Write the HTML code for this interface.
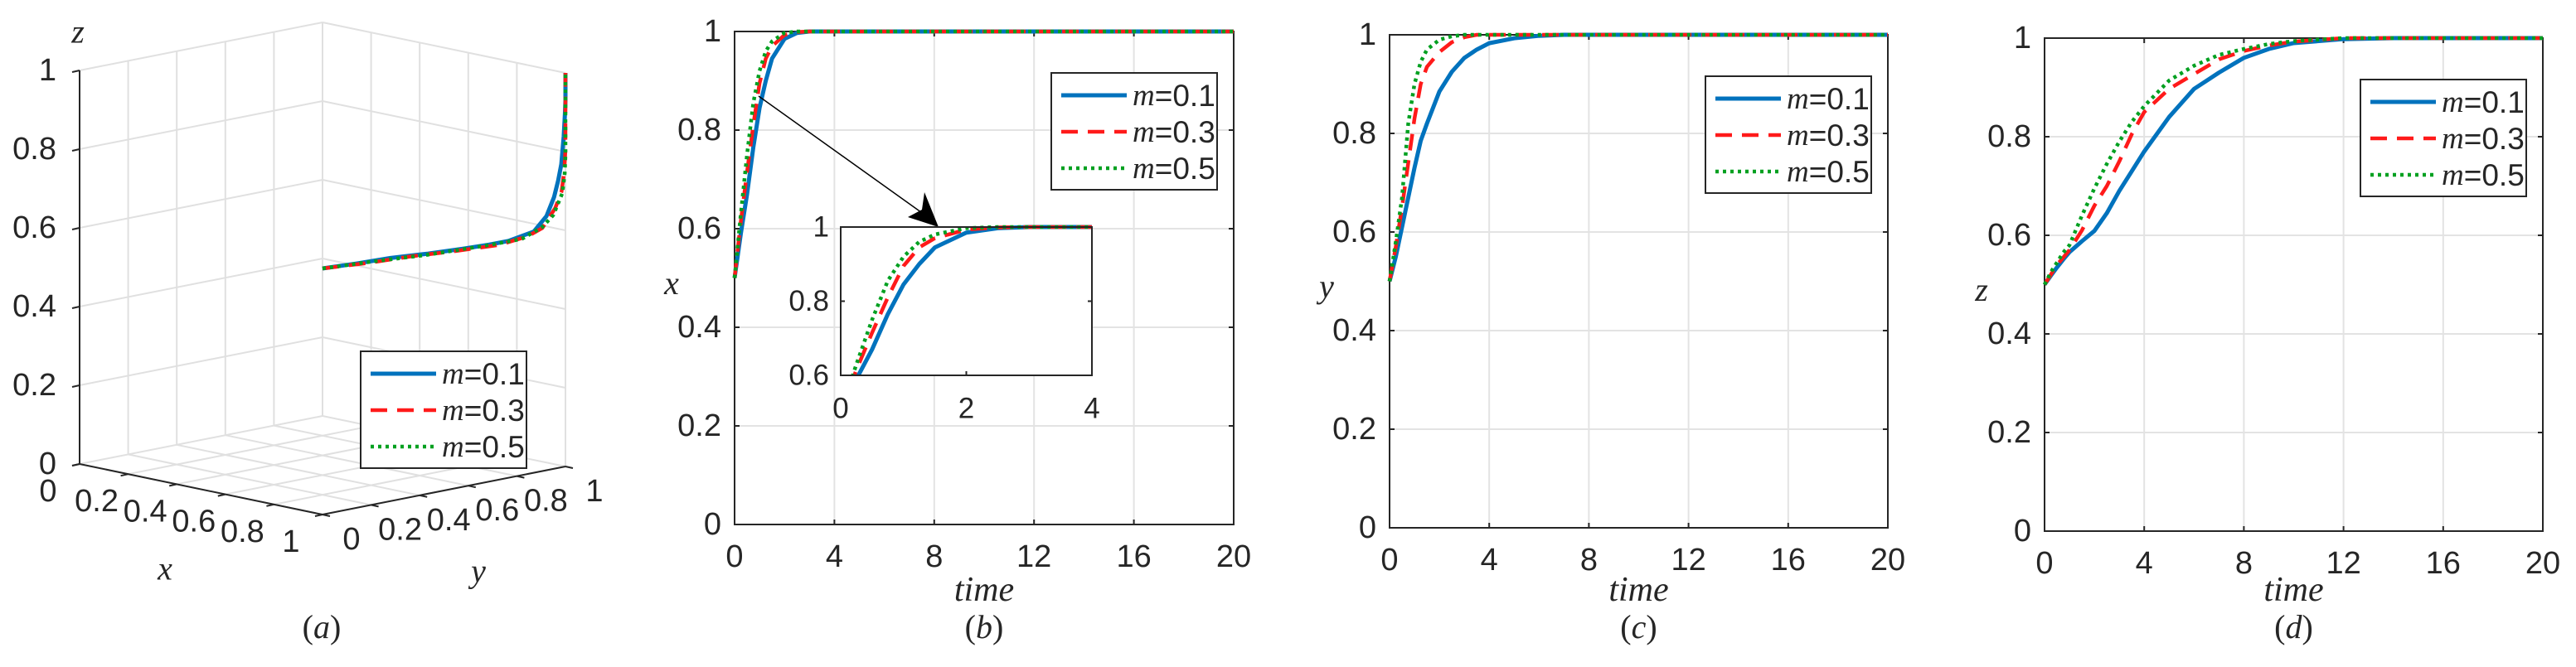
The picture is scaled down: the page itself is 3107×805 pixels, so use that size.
<!DOCTYPE html>
<html><head><meta charset="utf-8">
<style>
html,body{margin:0;padding:0;background:#fff;}
svg{display:block;}
text{font-family:"Liberation Sans",sans-serif;fill:#262626;}
.it{font-family:"Liberation Serif",serif;font-style:italic;}
.up{font-family:"Liberation Serif",serif;font-style:normal;}
</style></head>
<body>
<svg id="fig" width="3107" height="805" viewBox="0 0 3107 805" xmlns="http://www.w3.org/2000/svg"></svg>
<script>
// ---- data ----
const T = [0,0.25,0.5,0.75,1,1.25,1.5,2,2.5,3,3.5,4,5,6,7,8,9,10,12,14,16,18,20];
const X1 = [0.5,0.59,0.67,0.765,0.845,0.9,0.945,0.985,0.997,1,1,1,1,1,1,1,1,1,1,1,1,1,1];
const X3 = [0.5,0.615,0.715,0.81,0.895,0.945,0.97,0.993,0.999,1,1,1,1,1,1,1,1,1,1,1,1,1,1];
const X5 = [0.5,0.63,0.75,0.855,0.92,0.96,0.98,0.997,1,1,1,1,1,1,1,1,1,1,1,1,1,1,1];
const Y1 = [0.5,0.55,0.61,0.67,0.73,0.785,0.82,0.885,0.925,0.953,0.97,0.983,0.993,0.998,1,1,1,1,1,1,1,1,1];
const Y3 = [0.5,0.57,0.65,0.74,0.83,0.9,0.935,0.965,0.985,0.995,1,1,1,1,1,1,1,1,1,1,1,1,1];
const Y5 = [0.5,0.58,0.67,0.82,0.9,0.945,0.97,0.99,0.997,1,1,1,1,1,1,1,1,1,1,1,1,1,1];
const Z1 = [0.5,0.518,0.535,0.551,0.566,0.577,0.588,0.609,0.645,0.69,0.73,0.77,0.84,0.897,0.93,0.96,0.978,0.99,0.998,1,1,1,1];
const Z3 = [0.5,0.52,0.54,0.555,0.57,0.59,0.61,0.66,0.70,0.75,0.805,0.85,0.897,0.927,0.957,0.974,0.985,0.993,1,1,1,1,1];
const Z5 = [0.5,0.525,0.545,0.565,0.58,0.61,0.64,0.695,0.745,0.79,0.83,0.862,0.914,0.944,0.966,0.978,0.988,0.994,1,1,1,1,1];
const legendLabels = ["=0.1","=0.3","=0.5"];
const timeTicks = [0,4,8,12,16,20];
const valTicks = [0,0.2,0.4,0.6,0.8,1];
const valTickLabels = ["0","0.2","0.4","0.6","0.8","1"];
const insetXTicks = [0,2,4];
const insetYTicks = [0.6,0.8,1];
const insetYTickLabels = ["0.6","0.8","1"];

const NS="http://www.w3.org/2000/svg";
const svg=document.getElementById('fig');
const STY=[{c:'#0072BD',w:5,d:''},{c:'#FF1A1A',w:4.5,d:'20 12'},{c:'#00A020',w:4.5,d:'4 5'}];
function mk(tag,attrs,parent){const e=document.createElementNS(NS,tag);for(const k in attrs)e.setAttribute(k,attrs[k]);(parent||svg).appendChild(e);return e;}
function txt(x,y,s,size,anchor,parent,cls){const e=mk('text',{x:x,y:y,'font-size':size,'text-anchor':anchor||'middle','dominant-baseline':'central'},parent);if(cls)e.setAttribute('class',cls);e.textContent=s;return e;}
function caption(x,y,letter,parent){
  const e=mk('text',{x:x,y:y,'font-size':40,'text-anchor':'middle','dominant-baseline':'central',class:'up'},parent);
  const a=mk('tspan',{},e);a.textContent='(';
  const b=mk('tspan',{class:'it'},e);b.textContent=letter;
  const c=mk('tspan',{},e);c.textContent=')';
  return e;
}

function legend(x0,y0,parent){
  const g=mk('g',{},parent);
  
  
  mk('rect',{x:x0,y:y0,width:200,height:141,fill:'#fff',stroke:'#262626','stroke-width':2},g);
  for(let i=0;i<3;i++){
    const yy=y0+27+i*44;
    const l=mk('line',{x1:x0+12,y1:yy,x2:x0+91,y2:yy,stroke:STY[i].c,'stroke-width':STY[i].w,'stroke-dasharray':STY[i].d},g);
    
    
    const t=mk('text',{x:x0+98,y:yy,'font-size':37,'dominant-baseline':'central'},g);
    
    
    const ts=mk('tspan',{class:'it'},t);ts.textContent='m';
    const ts2=mk('tspan',{},t);ts2.textContent=legendLabels[i];
  }
}

function panel2d(L,R,Tp,B,series,ylab,cap,name){
  const g=mk('g',{});
  
  
  const sx=t=>L+(R-L)*t/20, sy=v=>B-(B-Tp)*v;
  for(const t of timeTicks){ if(t>0&&t<20){const gl=mk('line',{x1:sx(t),y1:Tp,x2:sx(t),y2:B,stroke:'#e3e3e3','stroke-width':2},g);} }
  for(const v of valTicks){ if(v>0&&v<1){const gl=mk('line',{x1:L,y1:sy(v),x2:R,y2:sy(v),stroke:'#e3e3e3','stroke-width':2},g);} }
  mk('rect',{x:L,y:Tp,width:R-L,height:B-Tp,fill:'none',stroke:'#262626','stroke-width':2},g);
  timeTicks.forEach(t=>{mk('line',{x1:sx(t),y1:B,x2:sx(t),y2:B-6,stroke:'#262626','stroke-width':2},g);mk('line',{x1:sx(t),y1:Tp,x2:sx(t),y2:Tp+6,stroke:'#262626','stroke-width':2},g);
    const e=txt(sx(t),B+39,String(t),38,'middle',g);});
  valTicks.forEach((v,i)=>{mk('line',{x1:L,y1:sy(v),x2:L+6,y2:sy(v),stroke:'#262626','stroke-width':2},g);mk('line',{x1:R,y1:sy(v),x2:R-6,y2:sy(v),stroke:'#262626','stroke-width':2},g);
    const e=txt(L-16,sy(v),valTickLabels[i],38,'end',g);});
  series.forEach((arr,k)=>{
    const pts=T.map((t,i)=>sx(t)+','+sy(arr[i])).join(' ');
    const p=mk('polyline',{points:pts,fill:'none',stroke:STY[k].c,'stroke-width':STY[k].w,'stroke-dasharray':STY[k].d,'stroke-linejoin':'round'},g);
    
    
  });
  const yl=txt(L-76,(Tp+B)/2+6,ylab,40,'middle',g,'it');
  const xl=txt((L+R)/2,712,'time',42,'middle',g,'it');
  const cp=caption((L+R)/2,756,cap,g);
  return {g,sx,sy};
}

// ---- panel b ----
const pb=panel2d(886,1488,38,633,[X1,X3,X5],'x','b','panel-b');
legend(1268,88,pb.g);
const ar=mk('line',{x1:915,y1:116,x2:1122,y2:264,stroke:'#000','stroke-width':1.5},pb.g);


const ah=mk('polygon',{points:'1132,274 1095,262 1112,253 1115,232',fill:'#000'},pb.g);


(function(){
  const L=1014,R=1317,Tp=274,B=453;
  const g=mk('g',{},pb.g);
  
  
  const sx=t=>L+(R-L)*t/4, sy=v=>B-(B-Tp)*(v-0.6)/0.4;
  mk('rect',{x:L,y:Tp,width:R-L,height:B-Tp,fill:'#fff'},g);
  const cp=mk('clipPath',{id:'insclip'},g);mk('rect',{x:L,y:Tp-4,width:R-L,height:B-Tp+4},cp);
  [X1,X3,X5].forEach((arr,k)=>{
    const pts=T.map((t,i)=>sx(t)+','+sy(arr[i])).join(' ');
    const p=mk('polyline',{points:pts,fill:'none',stroke:STY[k].c,'stroke-width':STY[k].w,'stroke-dasharray':STY[k].d,'clip-path':'url(#insclip)','stroke-linejoin':'round'},g);
    
    
  });
  mk('rect',{x:L,y:Tp,width:R-L,height:B-Tp,fill:'none',stroke:'#262626','stroke-width':2},g);
  insetXTicks.forEach(t=>{mk('line',{x1:sx(t),y1:B,x2:sx(t),y2:B-5,stroke:'#262626','stroke-width':2},g);
    const e=txt(sx(t),493,String(t),35,'middle',g);});
  insetYTicks.forEach((v,i)=>{mk('line',{x1:L,y1:sy(v),x2:L+5,y2:sy(v),stroke:'#262626','stroke-width':2},g);mk('line',{x1:R,y1:sy(v),x2:R-5,y2:sy(v),stroke:'#262626','stroke-width':2},g);
    const e=txt(L-14,sy(v),insetYTickLabels[i],35,'end',g);});
})();

// ---- panel c ----
const pc=panel2d(1676,2277,42,637,[Y1,Y3,Y5],'y','c','panel-c');
legend(2057,92,pc.g);
// ---- panel d ----
const pd=panel2d(2466,3067,46,641,[Z1,Z3,Z5],'z','d','panel-d');
legend(2847,96,pd.g);

// ---- panel a (3D) ----
(function(){
  const g=mk('g',{});
  
  
  const P=(x,y,z)=>[96+293*x+293*y, 560+61*x-58*y-475*z];
  const ln=(a,b,col,w,nm)=>{const e=mk('line',{x1:a[0],y1:a[1],x2:b[0],y2:b[1],stroke:col,'stroke-width':w},g);return e;};
  const GC='#e0e0e0';
  for(const v of valTicks){
    if(v>0){ln(P(0,0,v),P(0,1,v),GC,2,'grid-z');ln(P(0,1,v),P(1,1,v),GC,2,'grid-z');}
    if(v>0){ln(P(0,v,0),P(0,v,1),GC,2,'grid-wall');}
    if(v<1){ln(P(v,1,0),P(v,1,1),GC,2,'grid-wall');}
    ln(P(v,0,0),P(v,1,0),GC,2,'grid-floor');
    ln(P(0,v,0),P(1,v,0),GC,2,'grid-floor');
  }
  ln(P(1,1,0),P(1,1,1),GC,2,'grid-wall');
  ln(P(0,0,0),P(0,0,1),'#262626',2,'z-axis');
  ln(P(0,0,0),P(1,0,0),'#262626',2,'x-axis');
  ln(P(1,0,0),P(1,1,0),'#262626',2,'y-axis');
  valTicks.forEach((v,i)=>{
    const a=P(0,0,v);ln(a,[a[0]-9,a[1]+2],'#262626',2,'z-tick');
    const e=txt(a[0]-28,a[1],valTickLabels[i],38,'end',g);
    const b=P(v,0,0);ln(b,[b[0]-9,b[1]+2],'#262626',2,'x-tick');
    const ex=txt(b[0]-38,b[1]+33,valTickLabels[i],38,'middle',g);
    const c=P(1,v,0);ln(c,[c[0]+9,c[1]+2],'#262626',2,'y-tick');
    const ey=txt(c[0]+35,c[1]+30,valTickLabels[i],38,'middle',g);
  });
  [[X1,Y1,Z1],[X3,Y3,Z3],[X5,Y5,Z5]].forEach((s,k)=>{
    const pts=T.map((t,i)=>P(s[0][i],s[1][i],s[2][i]).join(',')).join(' ');
    const p=mk('polyline',{points:pts,fill:'none',stroke:STY[k].c,'stroke-width':STY[k].w,'stroke-dasharray':STY[k].d,'stroke-linejoin':'round'},g);
    
    
  });
  legend(435,424,g);
  const zx=txt(94,38,'z',40,'middle',g,'it');
  const xx=txt(199,686,'x',40,'middle',g,'it');
  const yy=txt(577,689,'y',40,'middle',g,'it');
  const ca=caption(388,756,'a',g);
})();
</script>
</body></html>
